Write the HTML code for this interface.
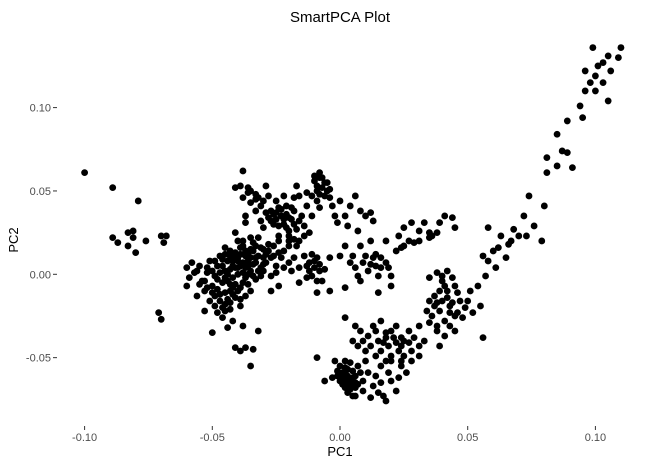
<!DOCTYPE html>
<html><head><meta charset="utf-8"><style>
html,body{margin:0;padding:0;background:#fff;}
svg{display:block;font-family:"Liberation Sans",Arial,sans-serif;}
</style></head><body>
<svg id="chart" width="654" height="463" viewBox="0 0 654 463" xmlns="http://www.w3.org/2000/svg">
<rect x="0" y="0" width="654" height="463" fill="#fff"/>
<text x="340" y="22" text-anchor="middle" font-size="15" fill="#000">SmartPCA Plot</text>
<text x="340" y="456" text-anchor="middle" font-size="13" fill="#000">PC1</text>
<text transform="translate(18,240) rotate(-90)" text-anchor="middle" font-size="13" fill="#000">PC2</text>
<g id="xaxis"></g>
<g id="yaxis"></g>
<g id="points"></g>
</svg>
<script>
const xTicks = [-0.10, -0.05, 0.00, 0.05, 0.10];
const xTickLabels = ["-0.10", "-0.05", "0.00", "0.05", "0.10"];
const yTicks = [-0.05, 0.00, 0.05, 0.10];
const yTickLabels = ["-0.05", "0.00", "0.05", "0.10"];
const outlierSamples = [[-0.100,0.061],[-0.089,0.052],[-0.089,0.022],[-0.087,0.019],[-0.083,0.025],[-0.081,0.022],[-0.081,0.026],[-0.083,0.017],[-0.080,0.013],[-0.079,0.044],[-0.076,0.020],[-0.070,0.023],[-0.068,0.023],[-0.069,0.019],[-0.071,-0.023],[-0.070,-0.027]];
const leftSamples = [[-0.060,0.004],[-0.059,-0.002],[-0.060,-0.007],[-0.057,0.001],[-0.055,0.005],[-0.054,-0.004],[-0.053,-0.010],[-0.052,0.001],[-0.051,0.008],[-0.050,-0.007],[-0.049,-0.013],[-0.049,-0.001],[-0.048,0.005],[-0.047,0.011],[-0.046,-0.005],[-0.045,-0.011],[-0.045,0.002],[-0.044,0.008],[-0.043,0.014],[-0.042,-0.002],[-0.042,-0.008],[-0.041,0.004],[-0.040,0.010],[-0.039,0.016],[-0.038,0.007],[-0.038,0.001],[-0.037,0.011],[-0.036,0.005],[-0.035,0.010],[-0.035,0.002],[-0.034,0.014],[-0.033,0.007],[-0.032,0.011],[-0.031,0.004],[-0.031,0.016],[-0.030,0.010],[-0.029,0.007],[-0.028,0.014],[-0.027,-0.001],[-0.027,0.010],[-0.026,0.017],[-0.025,0.005],[-0.024,0.013],[-0.024,0.020],[-0.023,0.010],[-0.022,0.014],[-0.020,0.007],[-0.049,-0.019],[-0.047,-0.016],[-0.045,-0.022],[-0.043,-0.017],[-0.041,-0.014],[-0.046,-0.026],[-0.044,-0.032],[-0.042,-0.028],[-0.048,-0.023],[-0.039,-0.019],[-0.037,-0.013],[-0.035,-0.010],[-0.050,-0.035],[-0.038,-0.031],[-0.032,-0.034],[-0.037,-0.044],[-0.039,-0.046],[-0.035,-0.055],[-0.040,0.020],[-0.041,0.025],[-0.035,0.022],[-0.033,0.017],[-0.042,0.005],[-0.045,-0.002],[-0.051,-0.016],[-0.053,-0.022],[-0.056,-0.013],[-0.058,0.007],[-0.045,0.016],[-0.038,0.020],[-0.031,-0.001],[-0.027,-0.010],[-0.024,-0.007],[-0.019,0.002],[-0.016,0.004],[-0.018,0.010],[-0.020,0.017],[-0.040,0.004],[-0.036,0.000],[-0.043,-0.006],[-0.033,-0.003],[-0.038,-0.005],[-0.041,0.010],[-0.046,0.009],[-0.050,0.002],[-0.053,-0.004],[-0.048,-0.009],[-0.044,-0.015],[-0.040,-0.010],[-0.034,0.006],[-0.030,0.002],[-0.028,0.018],[-0.044,0.000],[-0.034,-0.045],[-0.041,-0.044]];
const leftDenseSamples = [[-0.043,0.011],[-0.041,0.013],[-0.039,0.012],[-0.037,0.014],[-0.036,0.008],[-0.039,0.005],[-0.043,0.003],[-0.040,0.000],[-0.037,-0.002],[-0.034,-0.001],[-0.032,0.002],[-0.030,0.006],[-0.029,0.012],[-0.033,0.010],[-0.036,0.012],[-0.042,0.008],[-0.046,0.005],[-0.047,0.001],[-0.044,-0.004],[-0.041,-0.006],[-0.039,-0.008],[-0.036,-0.006],[-0.047,-0.012],[-0.045,-0.018],[-0.043,-0.021],[-0.046,-0.020],[-0.042,-0.012],[-0.039,-0.015],[-0.050,-0.011],[-0.052,-0.008],[-0.055,-0.006],[-0.056,0.002],[-0.052,0.004],[-0.049,0.008],[-0.038,0.017],[-0.034,0.019],[-0.030,0.015],[-0.026,0.011],[-0.025,0.001],[-0.022,0.004],[-0.040,0.008],[-0.037,0.004],[-0.035,0.015],[-0.045,0.012],[-0.048,-0.003],[-0.043,-0.010]];
const upperSamples = [[-0.038,0.062],[-0.041,0.052],[-0.039,0.053],[-0.036,0.049],[-0.035,0.050],[-0.038,0.046],[-0.035,0.043],[-0.032,0.046],[-0.031,0.041],[-0.028,0.047],[-0.027,0.038],[-0.025,0.037],[-0.023,0.035],[-0.021,0.041],[-0.020,0.034],[-0.018,0.038],[-0.016,0.032],[-0.020,0.026],[-0.024,0.029],[-0.027,0.032],[-0.029,0.037],[-0.033,0.038],[-0.037,0.035],[-0.031,0.032],[-0.018,0.046],[-0.017,0.053],[-0.022,0.047],[-0.025,0.044],[-0.016,0.047],[-0.029,0.053],[-0.020,0.023],[-0.016,0.020],[-0.012,0.025],[-0.014,0.029],[-0.037,0.031],[-0.013,0.041],[-0.009,0.044],[-0.011,0.035],[-0.008,0.040],[-0.020,0.020],[-0.017,0.017],[-0.024,0.023],[-0.032,0.022],[-0.022,0.030],[-0.026,0.036],[-0.019,0.040],[-0.030,0.028],[-0.033,0.045],[-0.024,0.040],[-0.010,0.059],[-0.008,0.061],[-0.007,0.058],[-0.009,0.053],[-0.006,0.055],[-0.005,0.050],[-0.004,0.046],[-0.009,0.050],[-0.011,0.047],[-0.006,0.047],[-0.003,0.041],[-0.013,0.049],[-0.008,0.058],[0.000,0.044],[0.004,0.041],[0.002,0.035],[0.006,0.047],[0.008,0.038],[0.010,0.035],[0.012,0.037],[0.013,0.032],[0.003,0.029],[0.007,0.026],[-0.002,0.035],[-0.001,0.031]];
const upperDenseSamples = [[-0.023,0.039],[-0.021,0.036],[-0.019,0.033],[-0.022,0.033],[-0.025,0.033],[-0.018,0.030],[-0.015,0.035],[-0.017,0.027],[-0.021,0.028],[-0.028,0.034],[-0.026,0.030],[-0.036,0.052],[-0.033,0.048],[-0.030,0.044],[-0.014,0.023],[-0.018,0.021],[-0.007,0.052],[-0.005,0.055],[-0.008,0.048],[-0.010,0.056],[-0.004,0.051]];
const middleSamples = [[-0.014,0.011],[-0.012,0.007],[-0.010,0.004],[-0.009,0.010],[-0.008,0.002],[-0.011,-0.001],[-0.007,-0.004],[-0.013,-0.002],[-0.016,-0.005],[-0.004,0.010],[0.000,0.011],[0.004,0.007],[0.005,0.011],[0.006,0.004],[0.007,-0.001],[0.009,0.007],[0.010,0.011],[0.011,0.002],[0.013,0.010],[0.014,0.005],[0.016,0.010],[0.018,0.007],[0.019,0.004],[0.020,-0.001],[0.015,-0.001],[0.022,0.014],[0.024,0.016],[0.025,0.017],[0.027,0.020],[0.029,0.019],[0.031,0.020],[0.035,0.022],[0.036,0.023],[0.038,0.025],[0.039,0.031],[0.041,0.035],[0.044,0.034],[0.045,0.028],[0.028,0.031],[0.031,0.026],[0.023,0.023],[0.025,0.028],[0.033,0.031],[0.035,0.025],[0.008,0.017],[0.012,0.020],[0.002,0.017],[0.018,0.020],[0.020,-0.007],[0.015,-0.011],[-0.004,-0.010],[-0.009,-0.011],[0.002,-0.008],[0.008,-0.004],[-0.012,0.002],[-0.010,0.008],[-0.008,0.006],[-0.011,0.012],[-0.013,0.005],[-0.009,-0.004],[-0.006,0.003],[0.012,0.006],[0.016,0.004],[0.014,0.012]];
const bottomSamples = [[-0.002,-0.052],[0.000,-0.055],[0.001,-0.059],[0.002,-0.056],[0.003,-0.061],[0.004,-0.053],[0.005,-0.058],[0.002,-0.064],[0.004,-0.067],[0.005,-0.062],[0.006,-0.068],[0.003,-0.071],[0.005,-0.073],[0.007,-0.066],[0.002,-0.068],[0.006,-0.073],[0.008,-0.059],[0.000,-0.064],[-0.001,-0.058],[0.009,-0.064],[0.007,-0.055],[-0.003,-0.062],[0.010,-0.052],[0.011,-0.059],[0.009,-0.070],[0.013,-0.067],[0.012,-0.074],[0.015,-0.071],[0.014,-0.061],[0.016,-0.065],[0.017,-0.073],[0.016,-0.055],[0.019,-0.059],[0.020,-0.064],[0.022,-0.070],[0.023,-0.062],[0.020,-0.052],[0.024,-0.055],[0.026,-0.059],[0.018,-0.076],[-0.006,-0.064],[-0.009,-0.050],[0.003,-0.057],[0.001,-0.066],[0.004,-0.064],[0.006,-0.061],[-0.001,-0.061],[0.002,-0.052],[0.006,-0.031],[0.008,-0.034],[0.009,-0.040],[0.011,-0.037],[0.012,-0.043],[0.014,-0.034],[0.015,-0.040],[0.016,-0.046],[0.018,-0.038],[0.019,-0.043],[0.020,-0.049],[0.020,-0.034],[0.022,-0.041],[0.023,-0.046],[0.024,-0.038],[0.024,-0.043],[0.025,-0.049],[0.027,-0.034],[0.027,-0.041],[0.028,-0.046],[0.029,-0.038],[0.031,-0.043],[0.031,-0.031],[0.013,-0.031],[0.016,-0.028],[0.022,-0.031],[0.018,-0.052],[0.010,-0.046],[0.014,-0.049],[0.024,-0.052],[0.028,-0.052],[0.031,-0.049],[0.033,-0.040],[0.007,-0.043],[0.002,-0.026],[0.005,-0.040],[0.001,-0.062],[0.003,-0.065],[0.004,-0.069],[0.000,-0.060],[0.006,-0.065],[0.002,-0.059],[0.017,-0.041],[0.021,-0.038],[0.018,-0.035],[0.025,-0.040]];
const rightSamples = [[0.035,-0.002],[0.038,0.001],[0.040,-0.001],[0.042,0.002],[0.044,-0.002],[0.045,-0.007],[0.046,-0.011],[0.041,-0.007],[0.039,-0.010],[0.037,-0.013],[0.035,-0.016],[0.038,-0.017],[0.042,-0.014],[0.044,-0.017],[0.047,-0.016],[0.049,-0.020],[0.046,-0.023],[0.043,-0.023],[0.039,-0.022],[0.036,-0.025],[0.035,-0.029],[0.038,-0.031],[0.041,-0.028],[0.043,-0.031],[0.045,-0.034],[0.048,-0.026],[0.050,-0.016],[0.052,-0.023],[0.041,-0.037],[0.038,-0.034],[0.034,-0.022],[0.051,-0.010],[0.055,-0.019],[0.056,-0.038],[0.039,-0.043],[0.040,-0.004],[0.042,-0.010],[0.040,-0.016],[0.043,-0.019],[0.037,-0.019],[0.045,-0.025]];
const tailSamples = [[0.099,0.136],[0.110,0.136],[0.105,0.131],[0.109,0.130],[0.103,0.127],[0.101,0.125],[0.106,0.122],[0.096,0.122],[0.100,0.119],[0.098,0.115],[0.103,0.115],[0.096,0.110],[0.100,0.110],[0.105,0.104],[0.094,0.101],[0.089,0.092],[0.095,0.094],[0.085,0.084],[0.087,0.074],[0.089,0.073],[0.091,0.064],[0.081,0.070],[0.085,0.065],[0.081,0.061],[0.074,0.047],[0.080,0.041],[0.072,0.035],[0.076,0.029],[0.073,0.023],[0.079,0.020],[0.070,0.023],[0.066,0.018],[0.067,0.020],[0.062,0.016],[0.065,0.010],[0.058,0.028],[0.060,0.014],[0.058,0.008],[0.061,0.004],[0.057,-0.001],[0.054,-0.007],[0.056,0.011],[0.063,0.023],[0.068,0.027]];

const NS = "http://www.w3.org/2000/svg";
function xScale(v){ return 340 + v * 2554; }
function yScale(v){ return 274.3 - v * 1667; }

const xg = document.getElementById('xaxis');
xTicks.forEach((t, i) => {
  const l = document.createElementNS(NS, 'line');
  
  
  l.setAttribute('x1', xScale(t)); l.setAttribute('x2', xScale(t));
  l.setAttribute('y1', 426); l.setAttribute('y2', 430);
  l.setAttribute('stroke', '#333'); l.setAttribute('stroke-width', '1');
  xg.appendChild(l);
  const tx = document.createElementNS(NS, 'text');
  
  
  tx.setAttribute('x', xScale(t)); tx.setAttribute('y', 441);
  tx.setAttribute('text-anchor', 'middle'); tx.setAttribute('font-size', '11');
  tx.setAttribute('fill', '#4d4d4d');
  tx.textContent = xTickLabels[i];
  xg.appendChild(tx);
});
const yg = document.getElementById('yaxis');
yTicks.forEach((t, i) => {
  const l = document.createElementNS(NS, 'line');
  
  
  l.setAttribute('x1', 53); l.setAttribute('x2', 57);
  l.setAttribute('y1', yScale(t)); l.setAttribute('y2', yScale(t));
  l.setAttribute('stroke', '#333'); l.setAttribute('stroke-width', '1');
  yg.appendChild(l);
  const tx = document.createElementNS(NS, 'text');
  
  
  tx.setAttribute('x', 51); tx.setAttribute('y', yScale(t) + 4);
  tx.setAttribute('text-anchor', 'end'); tx.setAttribute('font-size', '11');
  tx.setAttribute('fill', '#4d4d4d');
  tx.textContent = yTickLabels[i];
  yg.appendChild(tx);
});
const pg = document.getElementById('points');
[outlierSamples, leftSamples, leftDenseSamples, upperSamples, upperDenseSamples, middleSamples, bottomSamples, rightSamples, tailSamples].forEach(group => {
  group.forEach(p => {
    const c = document.createElementNS(NS, 'circle');
    
    
    c.setAttribute('cx', xScale(p[0]));
    c.setAttribute('cy', yScale(p[1]));
    c.setAttribute('r', 3.4);
    c.setAttribute('fill', '#000');
    pg.appendChild(c);
  });
});
</script>
</body></html>
